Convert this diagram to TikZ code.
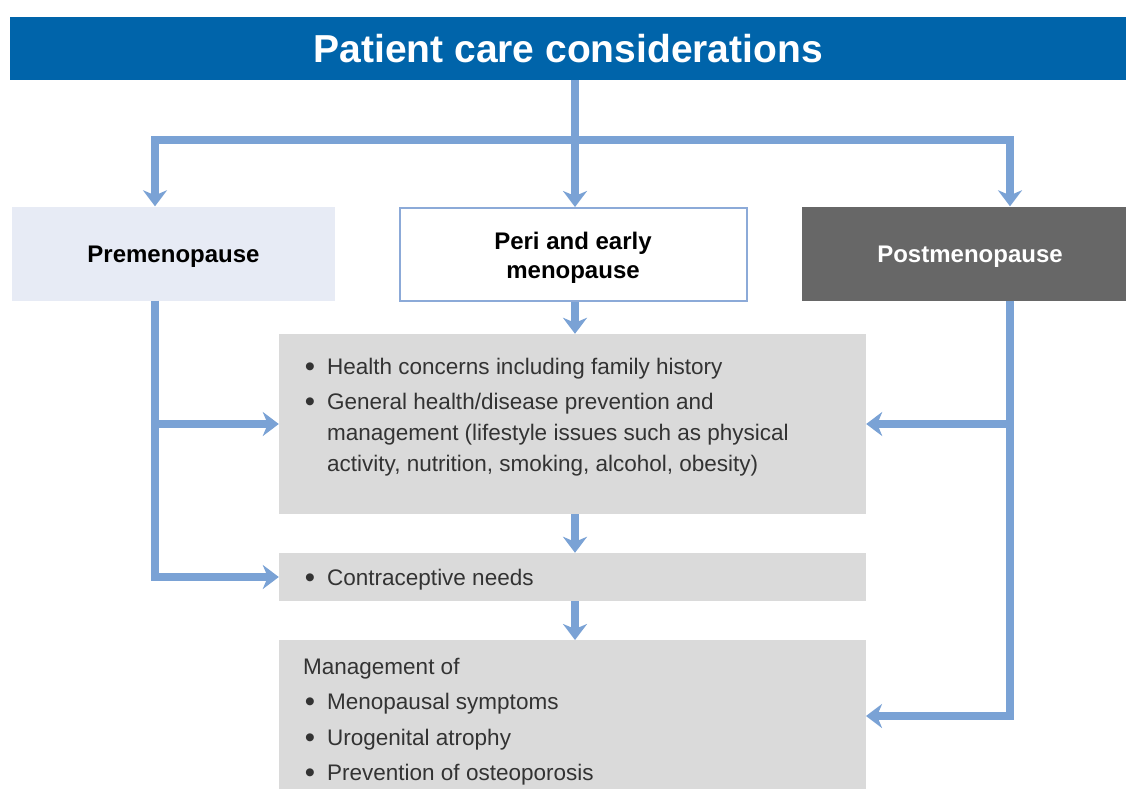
\documentclass[tikz,border=0pt]{standalone}
\usepackage{fontspec}
\setmainfont{Liberation Sans}
\usetikzlibrary{arrows.meta}
\definecolor{hdrblue}{HTML}{0064AA}
\definecolor{linkblue}{HTML}{7AA2D5}
\definecolor{prefill}{HTML}{E7EBF5}
\definecolor{periedge}{HTML}{8CAAD8}
\definecolor{postfill}{HTML}{676767}
\definecolor{boxgray}{HTML}{DADADA}
\definecolor{bodytext}{HTML}{333333}
\newcommand{\lowr}[1]{\raisebox{-3pt}[\height][\depth]{#1}}
\newcommand{\bigbul}{\raisebox{-2pt}{\scalebox{1.3}{\textbullet}}}
\tikzset{
  conn/.style={draw=linkblue, line width=8pt},
  tip/.tip={Stealth[length=16pt, width=24pt, inset=5pt]},
  arr/.style={conn, -tip},
  stagebox/.style={minimum width=#1, minimum height=94pt, inner sep=0pt, align=center,
    font=\fontsize{24}{29}\selectfont\bfseries},
  graybox/.style={fill=boxgray, inner sep=0pt, minimum width=587pt},
  bodyline/.style={anchor=base west, inner sep=0pt, text=bodytext, font=\fontsize{22.5}{27}\selectfont},
  bul/.style={anchor=base, inner sep=0pt, text=bodytext, font=\fontsize{22.5}{27}\selectfont},
}
\begin{document}
\begin{tikzpicture}[x=1pt, y=-1pt]
\useasboundingbox (0,0) rectangle (1126,789);
\fill[white] (0,0) rectangle (1126,789);

% header
\node[fill=hdrblue, minimum width=1116pt, minimum height=63pt, inner sep=0pt, anchor=north west,
  text=white, font=\fontsize{39}{44}\selectfont\bfseries] (hdr) at (10,17) {Patient care considerations};

% stage boxes
\node[stagebox=323pt, fill=prefill, text=black] (pre) at (173.5,253.5) {\lowr{Premenopause}};
\node[stagebox=347pt, draw=periedge, line width=2pt, fill=white, text=black, minimum height=93pt] (peri) at (573,254.5)
  {\lowr{\parbox{320pt}{\centering Peri and early\\menopause}}};
\node[stagebox=336pt, fill=postfill, text=white] (post) at (970,253.5) {\lowr{Postmenopause}};

% gray content boxes
\node[graybox, minimum height=180pt] (health) at (572.5,424) {};
\node[graybox, minimum height=48pt] (contra) at (572.5,577) {};
\node[graybox, minimum height=152pt, anchor=north] (mgmt) at (572.5,640) {};

% health text
\node[bul] (b1) at (310,374) {\bigbul};
\node[bodyline] (t1) at (327,374) {Health concerns including family history};
\node[bul] (b2) at (310,409) {\bigbul};
\node[bodyline] (t2a) at (327,409) {General health/disease prevention and};
\node[bodyline] (t2b) at (327,440) {management (lifestyle issues such as physical};
\node[bodyline] (t2c) at (327,471) {activity, nutrition, smoking, alcohol, obesity)};

% contraceptive text
\node[bul] (b3) at (310,585) {\bigbul};
\node[bodyline] (t3) at (327,585) {Contraceptive needs};

% management text
\node[bodyline] (m0) at (303,674) {Management of};
\node[bul] (b4) at (310,709) {\bigbul};
\node[bodyline] (m1) at (327,709) {Menopausal symptoms};
\node[bul] (b5) at (310,745) {\bigbul};
\node[bodyline] (m2) at (327,745) {Urogenital atrophy};
\node[bul] (b6) at (310,780) {\bigbul};
\node[bodyline] (m3) at (327,780) {Prevention of osteoporosis};

% connectors
\coordinate (trunk) at (575,140);
\coordinate (L) at (155,140);
\coordinate (R) at (1010,140);
\coordinate (mgmtin) at (866,716);

\draw[arr] (hdr.south -| trunk) -- (trunk |- peri.north);
\draw[conn, tip-tip] (L |- pre.north) -- (L) -- (R) -- (R |- post.north);

\draw[arr] (trunk |- peri.south) -- (trunk |- health.north);
\draw[arr] (trunk |- health.south) -- (trunk |- contra.north);
\draw[arr] (trunk |- contra.south) -- (trunk |- mgmt.north);

\draw[arr] (L |- pre.south) -- (L |- contra.west) -- (contra.west);
\draw[arr] (L |- health.west) -- (health.west);

\draw[arr] (R |- post.south) -- (R |- mgmtin) -- (mgmtin);
\draw[arr] (R |- health.east) -- (health.east);
\end{tikzpicture}
\end{document}
